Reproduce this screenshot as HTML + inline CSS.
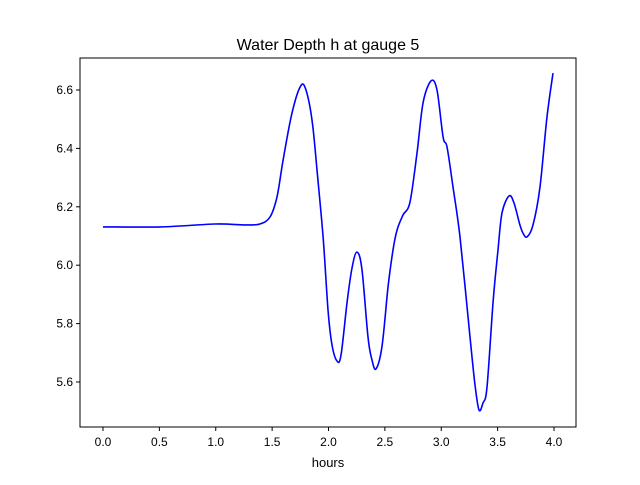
<!DOCTYPE html>
<html><head><meta charset="utf-8"><style>
body{margin:0;background:#fff;font-family:"Liberation Sans",sans-serif;}
</style></head><body>
<svg id="chart" width="640" height="480" xmlns="http://www.w3.org/2000/svg" font-family="Liberation Sans, sans-serif">
<rect width="640" height="480" fill="#fff"/>
<text x="328" y="50" font-size="16" text-anchor="middle">Water Depth h at gauge 5</text>
<g id="ticks"></g>
<path id="line" fill="none" stroke="#0000ff" stroke-width="1.6" stroke-linejoin="round"/>
<rect x="80" y="58" width="496" height="369" fill="none" stroke="#000" stroke-width="1"/>
<text x="328" y="467" font-size="13" text-anchor="middle">hours</text>
</svg>
<script>
const hours=[0,0.506,0.993,1.259,1.392,1.481,1.543,1.597,1.676,1.753,1.800,1.854,1.898,1.952,1.996,2.031,2.075,2.111,2.164,2.208,2.253,2.297,2.350,2.386,2.421,2.474,2.528,2.572,2.608,2.661,2.723,2.785,2.838,2.909,2.962,3.016,3.051,3.104,3.166,3.255,3.299,3.335,3.370,3.406,3.459,3.503,3.539,3.601,3.645,3.698,3.725,3.761,3.814,3.876,3.938,3.991];
const depth=[6.131,6.131,6.141,6.138,6.141,6.165,6.234,6.360,6.521,6.614,6.600,6.497,6.326,6.097,5.847,5.727,5.672,5.692,5.871,5.990,6.045,5.984,5.754,5.675,5.645,5.720,5.925,6.052,6.121,6.172,6.216,6.384,6.555,6.631,6.600,6.439,6.405,6.268,6.097,5.754,5.590,5.504,5.528,5.583,5.871,6.052,6.179,6.237,6.213,6.138,6.110,6.097,6.138,6.268,6.508,6.658];
const xTicks=[0,0.5,1,1.5,2,2.5,3,3.5,4];
const xTickLabels=["0.0","0.5","1.0","1.5","2.0","2.5","3.0","3.5","4.0"];
const yTicks=[5.6,5.8,6.0,6.2,6.4,6.6];
const yTickLabels=["5.6","5.8","6.0","6.2","6.4","6.6"];
const X=t=>103+t*112.75;
const Y=h=>90+(6.6-h)*292;
const NS="http://www.w3.org/2000/svg";
const g=document.getElementById('ticks');
function mk(tag,attrs){const e=document.createElementNS(NS,tag);for(const k in attrs)e.setAttribute(k,attrs[k]);g.appendChild(e);return e;}
xTicks.forEach((t,i)=>{
 const l=mk('line',{x1:X(t),x2:X(t),y1:427,y2:431,stroke:'#000'});
 
 
 const tx=mk('text',{x:X(t),y:446,'font-size':12,'text-anchor':'middle'});
 tx.textContent=xTickLabels[i];
 
 
});
yTicks.forEach((h,i)=>{
 const l=mk('line',{x1:76,x2:80,y1:Y(h),y2:Y(h),stroke:'#000'});
 
 
 const tx=mk('text',{x:73,y:Y(h)+4,'font-size':12,'text-anchor':'end'});
 tx.textContent=yTickLabels[i];
 
 
});
const P=hours.map((t,i)=>[X(t),Y(depth[i])]);
let d='M'+P[0][0].toFixed(1)+' '+P[0][1].toFixed(1);
for(let i=0;i<P.length-1;i++){
 const p0=P[Math.max(0,i-1)],p1=P[i],p2=P[i+1],p3=P[Math.min(P.length-1,i+2)];
 const c1=[p1[0]+(p2[0]-p0[0])/6,p1[1]+(p2[1]-p0[1])/6];
 const c2=[p2[0]-(p3[0]-p1[0])/6,p2[1]-(p3[1]-p1[1])/6];
 d+=' C'+c1[0].toFixed(1)+' '+c1[1].toFixed(1)+' '+c2[0].toFixed(1)+' '+c2[1].toFixed(1)+' '+p2[0].toFixed(1)+' '+p2[1].toFixed(1);
}
document.getElementById('line').setAttribute('d',d);
</script>
</body></html>
